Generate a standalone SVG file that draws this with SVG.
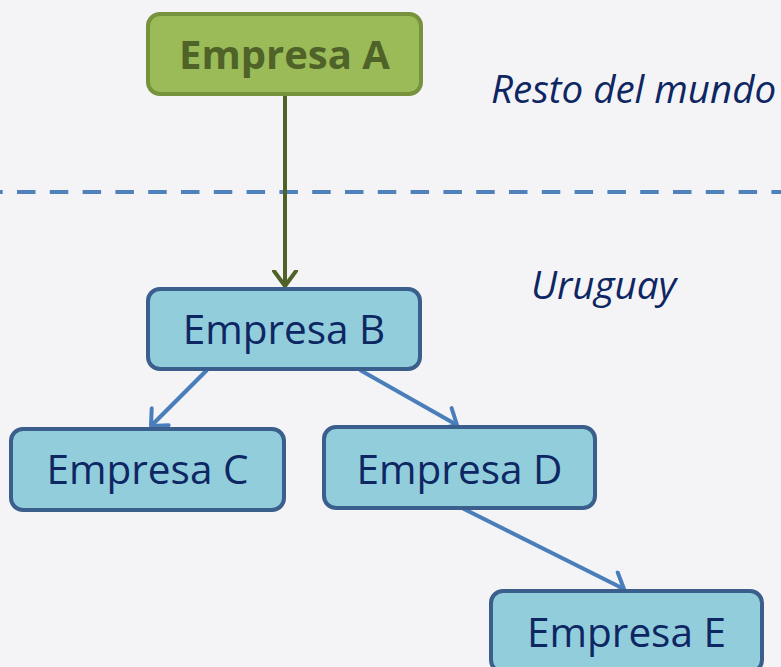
<svg xmlns="http://www.w3.org/2000/svg" width="781" height="667" viewBox="0 0 781 667">
<defs>
<style>
.bg{fill:#F4F4F7}
.blue rect{fill:#92CDDC;stroke:#3A5F8C;stroke-width:4}
.blue text{font-family:"Open Sans","Noto Sans",sans-serif;font-size:40.5px;fill:#0E2763;text-anchor:middle}
.green rect{fill:#9BBB59;stroke:#76923C;stroke-width:4}
.green text{font-family:"Open Sans","Noto Sans",sans-serif;font-size:40px;font-weight:bold;fill:#4F6228;text-anchor:middle}
.lbl{font-family:"Open Sans","Noto Sans",sans-serif;font-style:italic;font-size:38.5px;fill:#0E2763}
.cb{stroke:#4A7EBB;stroke-width:4;fill:none}
.cg{stroke:#4F6228;stroke-width:4;fill:none}
</style>
<marker id="ab" viewBox="-16 -14 20 28" refX="0" refY="0" markerWidth="20" markerHeight="28" markerUnits="userSpaceOnUse" orient="auto">
<path d="M-13,-12 L0,0 L-13,12" fill="none" stroke="#4A7EBB" stroke-width="4" stroke-linecap="round" stroke-linejoin="round"/>
</marker>
<marker id="ag" viewBox="-16 -14 20 28" refX="0" refY="0" markerWidth="20" markerHeight="28" markerUnits="userSpaceOnUse" orient="auto">
<path d="M-15,-11 L0,0 L-15,11" fill="none" stroke="#4F6228" stroke-width="4" stroke-linecap="round" stroke-linejoin="round"/>
</marker>
</defs>
<rect class="bg" x="0" y="0" width="781" height="667"/>
<line x1="0" y1="192" x2="781" y2="192" stroke="#4F81BD" stroke-width="4" stroke-dasharray="18.5 14.3" stroke-dashoffset="15.8"/>
<text class="lbl" x="491" y="103">Resto del mundo</text>
<text class="lbl" x="531" y="299">Uruguay</text>
<g id="connectors">
<line class="cg" x1="285" y1="96" x2="285" y2="286" marker-end="url(#ag)"/>
<line class="cb" x1="207" y1="370" x2="151" y2="426" marker-end="url(#ab)"/>
<line class="cb" x1="360" y1="370" x2="457" y2="425" marker-end="url(#ab)"/>
<line class="cb" x1="460" y1="507" x2="624" y2="589" marker-end="url(#ab)"/>
</g>
<g id="empresa-a" class="green">
<rect x="148" y="14" width="273" height="80" rx="12"/>
<text x="284.5" y="69">Empresa A</text>
</g>
<g id="empresa-b" class="blue">
<rect x="148" y="289" width="272" height="80" rx="12"/>
<text x="284" y="344">Empresa B</text>
</g>
<g id="empresa-c" class="blue">
<rect x="11" y="429" width="273" height="81" rx="12"/>
<text x="147.5" y="484">Empresa C</text>
</g>
<g id="empresa-d" class="blue">
<rect x="324" y="427" width="271" height="81" rx="12"/>
<text x="459.5" y="484">Empresa D</text>
</g>
<g id="empresa-e" class="blue">
<rect x="491" y="591" width="271" height="81" rx="12"/>
<text x="626.5" y="647">Empresa E</text>
</g>
</svg>
